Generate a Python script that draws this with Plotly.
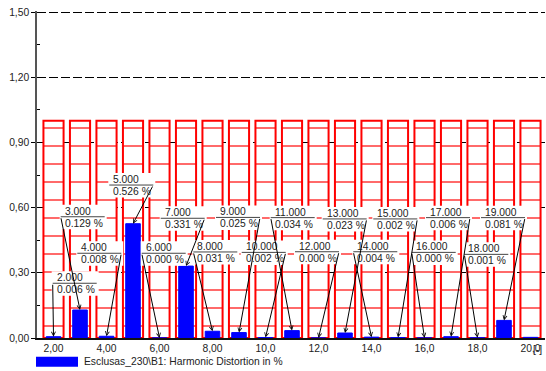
import plotly.graph_objects as go

# ---------------- data ----------------
harmonics = [2, 3, 4, 5, 6, 7, 8, 9, 10, 11, 12, 13, 14, 15, 16, 17, 18, 19, 20]
distortion = [0.006, 0.129, 0.008, 0.526, 0.0004, 0.331, 0.031, 0.025, 0.002,
              0.034, 0.0004, 0.023, 0.004, 0.002, 0.0004, 0.006, 0.001, 0.081, 0.003]
limits = [1.0, 1.0, 1.0, 1.0, 1.0, 1.0, 1.0, 1.0, 1.0, 1.0,
          1.0, 1.0, 1.0, 1.0, 1.0, 1.0, 1.0, 1.0, 1.0]
y_tick_vals = [0.0, 0.3, 0.6, 0.9, 1.2, 1.5]
y_tick_text = ["0,00", "0,30", "0,60", "0,90", "1,20", "1,50"]
x_tick_vals = [2, 4, 6, 8, 10, 12, 14, 16, 18, 20]
x_tick_text = ["2,00", "4,00", "6,00", "8,00", "10,0", "12,0", "14,0", "16,0", "18,0", "20,0"]
legend_text = "Esclusas_230\\B1: Harmonic Distortion in %"
unit_text = "[-]"

# ---------------- label layout (positions, not data) ----------------
label_count = 18  # harmonics 2..19 are labelled
label_left = [1.969, 2.271, 2.898, 4.105, 5.328, 6.045, 7.275, 8.132, 9.102,
              10.196, 11.113, 12.158, 13.313, 14.068, 15.517, 16.056, 17.502, 18.132]
label_level = [0.252, 0.558, 0.390, 0.704, 0.390, 0.551, 0.396, 0.555, 0.394,
               0.554, 0.397, 0.548, 0.397, 0.548, 0.394, 0.554, 0.385, 0.554]
label_side = ['L', 'L', 'R', 'R', 'L', 'R', 'L', 'R', 'R',
              'L', 'R', 'R', 'L', 'R', 'L', 'R', 'L', 'R']

# ---------------- layout constants ----------------
W, H = 546, 371
ML, MR, MT, MB = 37, 1, 11, 33
XR = [1.377, 20.547]
YR = [0.0, 1.505]
PLOT_W = W - ML - MR
PLOT_H = H - MT - MB
PX_X = PLOT_W / (XR[1] - XR[0])
LABEL_W = 44
FONT = "Liberation Sans, Arial, sans-serif"
FS = 10.3

fig = go.Figure()

fig.add_trace(go.Bar(
    x=harmonics, y=limits, width=0.76,
    marker=dict(color="white",
                line=dict(color="#ff0000", width=2),
                pattern=dict(shape="-", fgcolor="#ff0000", bgcolor="white",
                             size=18, solidity=0.065, fillmode="replace")),
    showlegend=False, hoverinfo="skip"))

fig.add_trace(go.Bar(
    x=harmonics, y=distortion, width=0.55,
    marker=dict(color="#0000ff", line=dict(color="#0000ff", width=1)),
    showlegend=False))

shapes = []
annotations = []
for i in range(label_count):
    h = harmonics[i]
    v = distortion[i]
    lx = label_left[i]
    ly = label_level[i]
    # white label box
    shapes.append(dict(type="rect", xref="x", yref="y",
                       xsizemode="pixel", xanchor=lx, x0=-1, x1=LABEL_W + 2,
                       ysizemode="pixel", yanchor=ly, y0=-12.5, y1=12,
                       fillcolor="white", line=dict(width=0), layer="above"))
    # underline
    shapes.append(dict(type="line", xref="x", yref="y",
                       xsizemode="pixel", xanchor=lx, x0=0, x1=LABEL_W,
                       ysizemode="pixel", yanchor=ly, y0=0, y1=0,
                       line=dict(color="#444444", width=1), layer="above"))
    tail_x = lx if label_side[i] == 'L' else lx + LABEL_W / PX_X
    annotations.append(dict(x=h, y=v, xref="x", yref="y",
                            axref="x", ayref="y", ax=tail_x, ay=ly,
                            text="", showarrow=True, arrowhead=5,
                            arrowsize=0.8, arrowwidth=1, arrowcolor="black",
                            standoff=0, startstandoff=0))
    annotations.append(dict(x=lx, y=ly, xref="x", yref="y",
                            text=f"{h:.3f}", showarrow=False,
                            xanchor="left", yanchor="middle", xshift=3, yshift=5.5,
                            borderpad=0, font=dict(family=FONT, size=FS, color="#222")))
    annotations.append(dict(x=lx, y=ly, xref="x", yref="y",
                            text=f"{v:.3f} %", showarrow=False,
                            xanchor="left", yanchor="middle", xshift=3, yshift=-6.5,
                            borderpad=0, font=dict(family=FONT, size=FS, color="#222")))

# legend (drawn manually)
shapes.append(dict(type="rect", xref="paper", yref="paper",
                   x0=(36 - ML) / PLOT_W, x1=(78 - ML) / PLOT_W,
                   y0=(MT + PLOT_H - 366.7) / PLOT_H, y1=(MT + PLOT_H - 356.7) / PLOT_H,
                   fillcolor="#0000ff", line=dict(width=0)))
annotations.append(dict(x=(83 - ML) / PLOT_W, y=(MT + PLOT_H - 361.7) / PLOT_H,
                        xref="paper", yref="paper", text=legend_text, showarrow=False,
                        xanchor="left", yanchor="middle", borderpad=0,
                        font=dict(family=FONT, size=FS, color="#222")))
annotations.append(dict(x=(543 - ML) / PLOT_W, y=(MT + PLOT_H - 349.5) / PLOT_H,
                        xref="paper", yref="paper", text=unit_text, showarrow=False,
                        xanchor="right", yanchor="middle", borderpad=0,
                        font=dict(family=FONT, size=FS, color="#222")))

fig.update_layout(
    width=W, height=H,
    margin=dict(l=ML, r=MR, t=MT, b=MB, pad=0),
    paper_bgcolor="white", plot_bgcolor="white",
    barmode="overlay", showlegend=False,
    font=dict(family=FONT, size=FS, color="#222"),
    shapes=shapes, annotations=annotations,
    xaxis=dict(range=XR, tickvals=x_tick_vals, ticktext=x_tick_text,
               showgrid=False, zeroline=False, showline=True,
               linecolor="#111111", linewidth=2, ticks="",
               tickfont=dict(family=FONT, size=FS, color="#222")),
    yaxis=dict(range=YR, tickvals=y_tick_vals, ticktext=y_tick_text,
               showgrid=True, gridcolor="#000000", gridwidth=1, griddash="9px,3px",
               zeroline=False, showline=True, linecolor="#555555", linewidth=1.5,
               ticks="outside", ticklen=4, tickcolor="#000000", tickwidth=1,
               minor=dict(dtick=0.15, tick0=0.15, ticks="inside", ticklen=3,
                          tickcolor="#000000", showgrid=False),
               tickfont=dict(family=FONT, size=FS, color="#222")),
)

fig.write_html("out.html")
